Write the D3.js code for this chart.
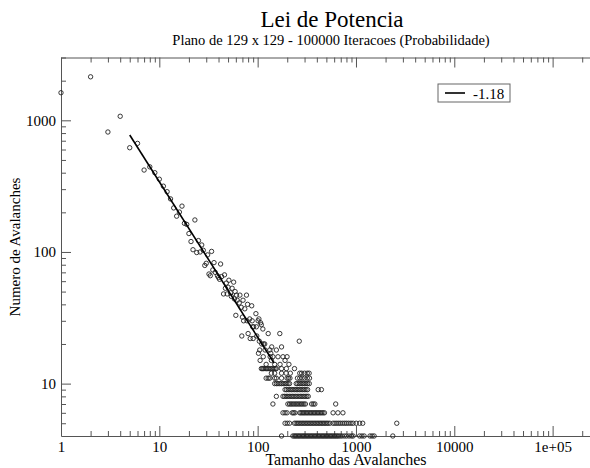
<!DOCTYPE html>
<html lang="pt">
<head>
<meta charset="UTF-8">
<title>Lei de Potencia</title>
<script src="https://cdnjs.cloudflare.com/ajax/libs/d3/7.8.5/d3.min.js"></script>
<style>
body { margin: 0; background: #fff; }
text { font-family: "Liberation Serif", "DejaVu Serif", serif; fill: #000; }
.axis path, .axis line { stroke: #555; }
</style>
</head>
<body>
<div id="chart"></div>
<script>
// tamanho -> numero de avalanches (pontos lidos um a um)
const headSize = [1, 2, 3, 4, 5, 6, 7, 8, 9, 10, 11, 12, 13, 14, 15, 16, 17, 18, 19, 20,
  21, 22, 23, 24, 25, 26, 27, 28, 29, 30, 31, 32, 33, 34, 35, 36, 37, 39, 40, 41,
  42, 43, 45, 46, 47, 48, 49, 50, 51, 53, 54, 55, 57, 58, 59, 60, 61, 62, 65, 66,
  68, 69, 70, 71, 72, 74, 77, 78, 79, 80, 83, 84, 87, 88, 89, 90, 91, 96, 97, 98,
  101, 102, 103, 104, 105, 106, 107, 109, 110, 113, 114, 115, 118, 119, 122, 128, 133, 134, 136, 138,
  139, 143, 149, 155, 161, 168, 169, 175, 181, 190, 199, 208, 265]
const headCount = [1620, 2140, 815, 1073, 619, 668, 419, 443, 400, 357, 316, 287, 253, 216, 187, 201, 223, 165, 162, 138,
  120, 104, 175, 99, 122, 100, 113, 103, 79, 82, 95, 68, 66, 101, 73, 83, 70, 66, 64, 62,
  81, 65, 48, 67, 53, 58, 48, 54, 61, 49, 46, 53, 59, 44, 50, 33, 47, 43, 41, 47,
  38, 23, 32, 43, 30, 37, 47, 30, 40, 24, 31, 22, 39, 30, 27, 22, 27, 34, 27, 23,
  30, 17, 31, 21, 18, 15, 29, 28, 20, 26, 16, 20, 20, 18, 14, 24, 18, 16, 17, 15,
  19, 16, 14, 18, 16, 24, 14, 19, 16, 15, 16, 14, 21]

// cauda: tamanhos com a mesma contagem (linhas horizontais)
const row13 = [109, 112, 115, 119, 123, 127, 131, 136, 141, 146, 151, 155, 175, 196, 237]
const row12 = [138, 149, 175, 195, 215, 268, 280, 300, 320, 334]
const row11 = [122, 128, 133, 149, 155, 175, 199, 206, 213, 254, 268, 283, 300, 320, 337]
const row10 = [149, 155, 161, 168, 175, 182, 189, 196, 204, 211, 247, 256, 266, 276, 287, 298, 310, 322, 335]
const row9 = [190, 197, 205, 213, 221, 229, 238, 247, 256, 266, 276, 287, 298, 310, 322, 413, 445]
const row8 = [155, 181, 188, 195, 202, 210, 218, 226, 234, 243, 252, 262, 272, 282, 293, 304, 316, 327]
const row7 = [143, 203, 211, 219, 227, 236, 245, 254, 264, 274, 284, 295, 306, 354, 368, 382, 622]
const row6 = [181, 190, 199, 225, 232, 240, 268, 276, 285, 294, 303, 313, 323, 334, 345, 356, 368, 380,
  392, 405, 418, 432, 446, 462, 478, 585, 655, 737]
const row5 = [190, 200, 211, 237, 246, 255, 264, 274, 284, 294, 305, 316, 327, 339, 351, 364, 377, 391,
  405, 420, 435, 451, 467, 484, 502, 520, 542, 585, 612, 640, 670, 700, 735, 770, 805, 845, 890, 935,
  1007, 1090, 1171, 2600]
const row4 = [175, 228, 236, 243, 251, 259, 267, 276, 285, 294, 303, 313, 323, 333, 344, 355, 366, 378,
  390, 402, 415, 428, 442, 456, 470, 485, 500, 516, 533, 550, 567, 585, 604, 623, 643, 663, 690, 720,
  760, 800, 850, 900, 935, 1090, 1150, 1210, 1390, 1460, 1530, 2370]
const rows = [[13, row13], [12, row12], [11, row11], [10, row10], [9, row9], [8, row8],
  [7, row7], [6, row6], [5, row5], [4, row4]]

// ajuste de lei de potencia
const fitSlope = -1.18
const fitFrom = 5, fitTo = 147
const fitAmp = 5163

const xMajor = [1, 10, 100, 1000, 10000, 100000]
const xLabels = ['1', '10', '100', '1000', '10000', '1e+05']
const yMajor = [10, 100, 1000]
const yLabels = ['10', '100', '1000']

const width = 590, height = 468
const svg = d3.select('#chart').append('svg')
  .attr('width', width).attr('height', height)

const x = d3.scaleLog().domain([1, 2.4e5]).range([61, 590])
const y = d3.scaleLog().domain([4, 3000]).range([436, 57.5])

let points = headSize.map((s, i) => ({s: s, c: headCount[i]}))
rows.forEach(r => r[1].forEach(s => points.push({s: s, c: r[0]})))

// titulos
svg.append('text').attr('x', 332).attr('y', 27)
  .attr('text-anchor', 'middle').style('font-size', '23px')
  .text('Lei de Potencia')
svg.append('text').attr('x', 331).attr('y', 45)
  .attr('text-anchor', 'middle').style('font-size', '14.5px')
  .text('Plano de 129 x 129 - 100000 Iteracoes (Probabilidade)')

// eixos
const xMinor = x.ticks().filter(d => xMajor.indexOf(d) < 0)
const yMinor = y.ticks().filter(d => yMajor.indexOf(d) < 0 && d > 4)

function axisPair(gen, scale, major, minor, pos, fmt) {
  const g = svg.append('g').attr('class', 'axis').attr('transform', pos)
  g.call(gen(scale).tickValues(major).tickSize(-10).tickSizeOuter(0).tickPadding(5)
    .tickFormat(fmt))
  g.selectAll('text').style('font-size', '15px').style('font-family', '"Liberation Serif", serif')
  const m = svg.append('g').attr('class', 'axis').attr('transform', pos)
  m.call(gen(scale).tickValues(minor).tickSize(-5).tickSizeOuter(0).tickFormat(''))
  m.select('.domain').remove()
  return g
}

axisPair(d3.axisBottom, x, xMajor, xMinor, 'translate(0,436)', (d, i) => xLabels[i])
axisPair(d3.axisTop, x, xMajor, xMinor, 'translate(0,57.5)', '')
axisPair(d3.axisLeft, y, yMajor, yMinor, 'translate(61,0)', (d, i) => yLabels[i])

svg.selectAll('.axis .domain').attr('stroke', '#777')

// rotulos dos eixos
svg.append('text').attr('x', 346).attr('y', 465)
  .attr('text-anchor', 'middle').style('font-size', '16px')
  .text('Tamanho das Avalanches')
svg.append('text')
  .attr('transform', 'translate(20,247) rotate(-90)')
  .attr('text-anchor', 'middle').style('font-size', '15px')
  .text('Numero de Avalanches')

// pontos
svg.append('g').selectAll('circle')
  .data(points)
  .enter()
  .append('circle')
    .attr('cx', d => x(d.s))
    .attr('cy', d => y(d.c))
    .attr('r', 2.2)
    .attr('fill', 'none')
    .attr('stroke', '#222')
    .attr('stroke-width', 0.9)

// reta ajustada
const fitLine = [fitFrom, fitTo].map(s => ({s: s, c: fitAmp * Math.pow(s, fitSlope)}))
svg.append('path')
  .datum(fitLine)
  .attr('fill', 'none')
  .attr('stroke', '#000')
  .attr('stroke-width', 1.6)
  .attr('d', d3.line().x(d => x(d.s)).y(d => y(d.c)))

// legenda
const leg = svg.append('g').attr('transform', 'translate(438,84)')
leg.append('rect').attr('width', 72).attr('height', 18)
  .attr('fill', '#fff').attr('stroke', '#666')
leg.append('line').attr('x1', 7).attr('x2', 27).attr('y1', 9).attr('y2', 9)
  .attr('stroke', '#000').attr('stroke-width', 1.6)
leg.append('text').attr('x', 35).attr('y', 14.5).style('font-size', '15px')
  .text(fitSlope.toFixed(2))
</script>
</body>
</html>
